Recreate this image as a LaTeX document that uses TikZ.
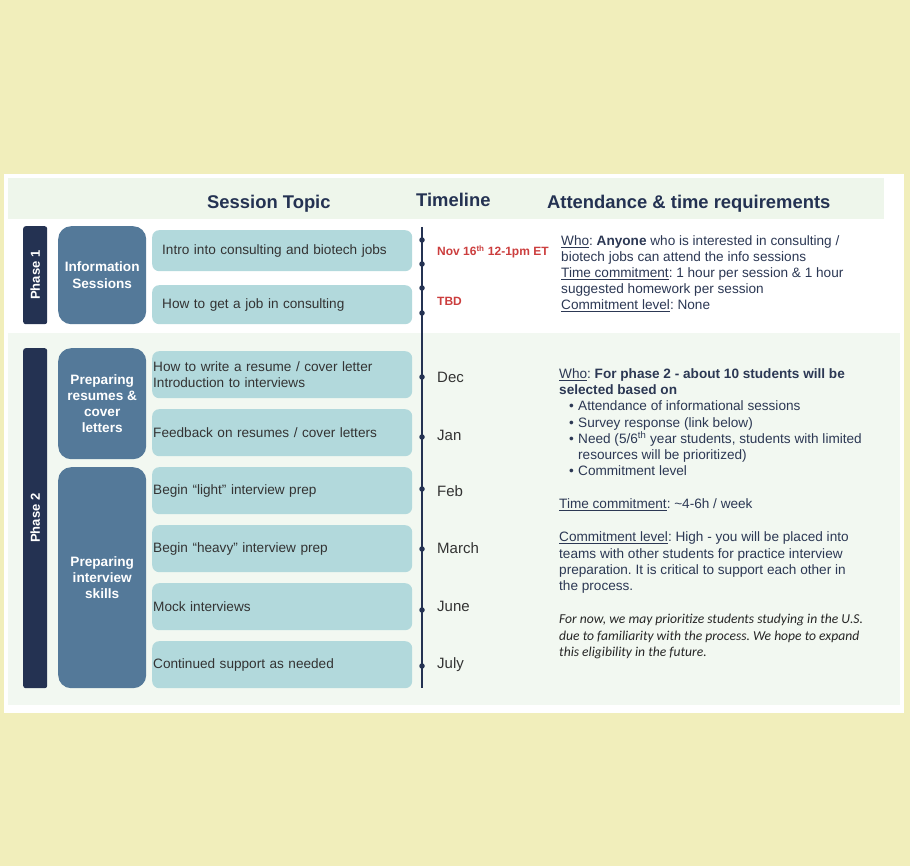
\documentclass[tikz,border=0pt]{standalone}
\usepackage{fontspec}
\setmainfont{Liberation Sans}
\newfontfamily\notefont{Carlito}
\usetikzlibrary{positioning,calc}
\definecolor{pageBg}{RGB}{241,238,187}
\definecolor{headBg}{RGB}{238,246,235}
\definecolor{phaseBg}{RGB}{242,248,241}
\definecolor{navy}{RGB}{36,50,82}
\definecolor{groupBlue}{RGB}{84,121,153}
\definecolor{topicTeal}{RGB}{178,217,220}
\definecolor{bodyText}{RGB}{51,51,51}
\definecolor{noteText}{RGB}{44,56,84}
\definecolor{dateRed}{RGB}{204,62,62}
\newcommand{\firstrule}{\rule{0pt}{10pt}}
\frenchspacing

\begin{document}
\begin{tikzpicture}[
  x=1pt, y=-1pt,
  region/.style={anchor=north west, inner sep=0pt, draw=none},
  phasebar/.style={fill=navy, rounded corners=2.5pt, minimum width=24pt, anchor=north west, inner sep=0pt},
  phaselabel/.style={text=white, font=\fontsize{13}{15}\selectfont\bfseries, rotate=90},
  group/.style={fill=groupBlue, rounded corners=13pt, minimum width=88pt, anchor=north west, inner sep=0pt,
    text=white, align=center, font=\fontsize{13.6}{16.2}\selectfont\bfseries},
  topic/.style={fill=topicTeal, rounded corners=7pt, minimum width=260pt, anchor=north west, inner ysep=0pt,
    align=left, text=bodyText, font=\fontsize{13.6}{16.2}\selectfont},
  header/.style={anchor=base west, text=navy, font=\fontsize{18.4}{22}\selectfont\bfseries, inner sep=0pt},
  datelabel/.style={anchor=base west, text=dateRed, font=\fontsize{12}{14}\selectfont\bfseries, inner sep=0pt},
  month/.style={anchor=base west, text=bodyText, font=\fontsize{15}{18}\selectfont, inner sep=0pt},
  notes/.style={anchor=north west, align=left, text=noteText, inner sep=0pt, font=\fontsize{13.6}{16.2}\selectfont},
  timeline/.style={draw=navy, line width=2pt},
  dot/.style={circle, fill=navy, minimum size=5.5pt, inner sep=0pt}
]

\useasboundingbox (0,0) rectangle (910,866);
\fill[pageBg] (0,0) rectangle (910,866);

% ------------------------------------------------------------------
% Card and backgrounds
% ------------------------------------------------------------------
\node[region, fill=white, minimum width=900pt, minimum height=539pt] (card) at (4,174) {};
\node[region, fill=headBg, minimum width=876pt, minimum height=41pt] (head) at (8,178) {};
\node[region, fill=phaseBg, minimum width=892pt, minimum height=372pt] (ph2bg) at (8,333) {};

\node[header] (hTopic) at (207,208.5) {Session Topic};
\node[header] (hTime) at (416,206.5) {Timeline};
\node[header] (hReq) at (547,208.5) {Attendance \& time requirements};

% ------------------------------------------------------------------
% Phase 1
% ------------------------------------------------------------------
\node[phasebar, minimum height=98pt] (bar1) at (23,226) {};
\node[phaselabel] at (bar1.center) {Phase 1};
\node[group, minimum height=98pt] (grp1) at (58,226) {Information\\Sessions};

\node[topic, minimum height=41pt, inner xsep=10pt, text width=240pt] (t11) at (152,230) {Intro into consulting and biotech jobs};
\node[topic, minimum height=39pt, inner xsep=10pt, text width=240pt] (t12) at (152,285) {How to get a job in consulting};

\node[datelabel] (date1) at (437,256) {Nov 16\textsuperscript{th} 12-1pm ET};
\node[datelabel] (date2) at (437,306) {TBD};

\node[notes] (req1) at (561,235) {\firstrule\underline{Who}: \textbf{Anyone} who is interested in consulting /\\
biotech jobs can attend the info sessions\\
\underline{Time commitment}: 1 hour per session \& 1 hour\\
suggested homework per session\\
\underline{Commitment level}: None};

% ------------------------------------------------------------------
% Phase 2
% ------------------------------------------------------------------
\node[phasebar, minimum height=340pt] (bar2) at (23,348) {};
\node[phaselabel] at (bar2.center) {Phase 2};
\node[group, minimum height=111pt] (grp2) at (58,348) {Preparing\\resumes \&\\cover\\letters};
\node[group, minimum height=221pt] (grp3) at (58,467) {Preparing\\interview\\skills};

\foreach \y/\txt [count=\i] in {
  351/{How to write a resume / cover letter\\Introduction to interviews},
  409/{Feedback on resumes / cover letters},
  467/{Begin “light” interview prep},
  525/{Begin “heavy” interview prep},
  583/{Mock interviews},
  641/{Continued support as needed}} {
  \node[topic, minimum height=47pt, inner xsep=1pt, text width=258pt] (t2\i) at (152,\y) {\txt};
}

\foreach \m/\y [count=\i] in {Dec/382.3, Jan/440, Feb/496.7, March/553.3, June/611.7, July/668.3} {
  \node[month] (m\i) at (437,\y) {\m};
}

% timeline
\coordinate (tltop) at (422,227);
\coordinate (tlbot) at (422,688);
\draw[timeline] (tltop) -- (tlbot);
\foreach \y [count=\i] in {240,264,288,313,377,437,489,549,610,666} {
  \node[dot] (dot\i) at (422,\y) {};
}

\node[notes] (who2) at (559,368.3) {\firstrule\underline{Who}: \textbf{For phase 2 - about 10 students will be}\\
\textbf{selected based on}\\
\hspace*{10pt}\makebox[9pt][l]{\textbullet}Attendance of informational sessions\\
\hspace*{10pt}\makebox[9pt][l]{\textbullet}Survey response (link below)\\
\hspace*{10pt}\makebox[9pt][l]{\textbullet}Need (5/6\textsuperscript{th} year students, students with limited\\
\hspace*{19pt}resources will be prioritized)\\
\hspace*{10pt}\makebox[9pt][l]{\textbullet}Commitment level};

\node[notes, anchor=base west] (time2) at (559,508.3) {\underline{Time commitment}: \textasciitilde 4-6h / week};

\node[notes] (level2) at (559,531.7) {\firstrule\underline{Commitment level}: High - you will be placed into\\
teams with other students for practice interview\\
preparation. It is critical to support each other in\\
the process.};

\node[notes, text=black!85, font=\notefont\itshape\fontsize{13.6}{16.5}\selectfont] (note2) at (559,613.3) {\firstrule For now, we may prioritize students studying in the U.S.\\
due to familiarity with the process. We hope to expand\\
this eligibility in the future.};

\end{tikzpicture}
\end{document}
